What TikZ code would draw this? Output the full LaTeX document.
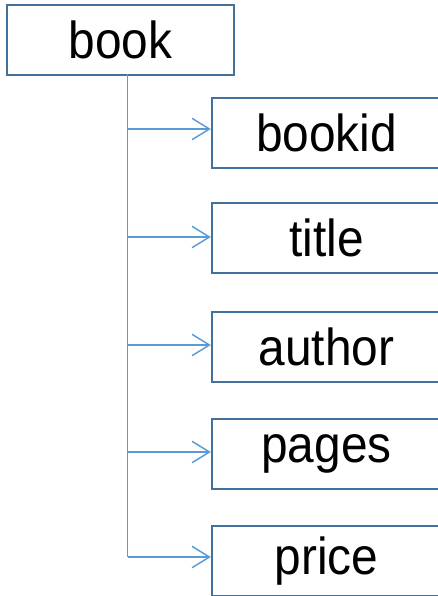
\documentclass[tikz,border=0pt]{standalone}
\usepackage{fontspec}
\setmainfont{Liberation Sans}[FakeStretch=0.92]
\usetikzlibrary{arrows.meta}

\definecolor{boxline}{HTML}{41719C}
\definecolor{arrowline}{HTML}{5B9BD5}

\tikzset{
  elembox/.style={draw=boxline, line width=1.5pt, fill=white, minimum height=52pt,
    inner sep=0pt, font=\fontsize{39}{44}\selectfont},
  childbox/.style={elembox, minimum width=172pt},
  childarrow/.style={draw=arrowline, line width=1.1pt, -{Straight Barb[length=13pt,width=16pt,line width=1.1pt]}}
}

\begin{document}
\begin{tikzpicture}[x=0.75pt,y=-0.75pt]
      \useasboundingbox (0,0) rectangle (438,596);
      \clip (0,0) rectangle (438,596);

      \node[elembox, minimum width=170pt] (book) at (120.5,40) {book};

      \node[childbox] (bookid) at (326.5,133) {bookid};
      \node[childbox] (title)  at (326.5,238) {title};
      \node[childbox] (author) at (326.5,347) {author};
      \node[childbox] (pages)  at (326.5,454) {pages};
      \node[childbox] (price)  at (326.5,561) {price};

      % trunk under book
      \coordinate (top) at (127.5,74);
      \coordinate (bottom) at (127.5,557);
      \draw[draw=arrowline, line width=1.1pt] (top) -- (bottom);

      \draw[childarrow] (top |- 0,129) -- (bookid.west |- 0,129);
      \draw[childarrow] (top |- 0,237) -- (title.west |- 0,237);
      \draw[childarrow] (top |- 0,345) -- (author.west |- 0,345);
      \draw[childarrow] (top |- 0,452) -- (pages.west |- 0,452);
      \draw[childarrow] (bottom) -- (price.west |- bottom);
    \end{tikzpicture}
\end{document}
